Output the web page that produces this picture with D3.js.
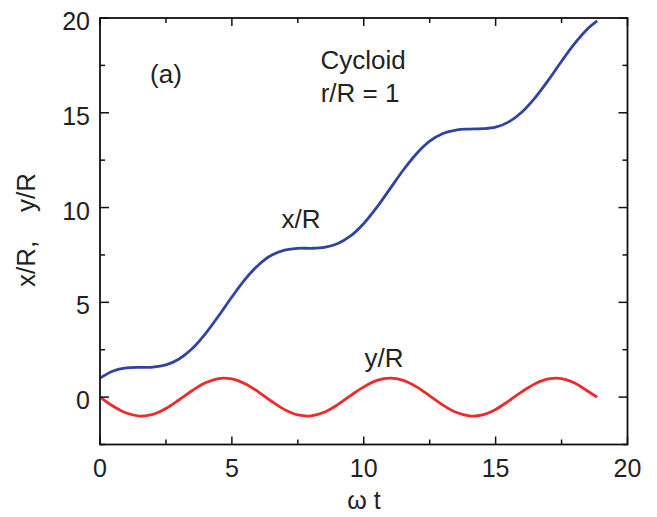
<!DOCTYPE html>
<html><head><meta charset="utf-8">
<script src="https://cdn.jsdelivr.net/npm/d3@7"></script>
<style>body{margin:0;background:#fff}svg{display:block}text{font-family:"Liberation Sans",Arial,sans-serif;fill:#222}</style>
</head><body><svg id="c" width="657" height="517"></svg>
<script>
const tValues = [0,0.5,1,1.5,2,2.5,3,3.5,4,4.5,5,5.5,6,6.5,7,7.5,8,8.5,9,9.5,10,10.5,11,11.5,12,12.5,13,13.5,14,14.5,15,15.5,16,16.5,17,17.5,18,18.5,18.85];
const xOverR = [1.00,1.38,1.54,1.57,1.58,1.70,2.01,2.56,3.35,4.29,5.28,6.21,6.96,7.48,7.75,7.85,7.85,7.90,8.09,8.50,9.16,10.02,11.00,11.98,12.84,13.50,13.91,14.09,14.14,14.16,14.24,14.52,15.04,15.80,16.72,17.72,18.66,19.45,19.85];
const yOverR = [0.00,-0.48,-0.84,-1.00,-0.91,-0.60,-0.14,0.35,0.76,0.98,0.96,0.71,0.28,-0.22,-0.66,-0.94,-0.99,-0.80,-0.41,0.08,0.54,0.88,1.00,0.88,0.54,0.07,-0.42,-0.80,-0.99,-0.94,-0.65,-0.20,0.29,0.71,0.96,0.98,0.75,0.31,0.00];
const xMajor = [0,5,10,15,20];
const xMinor = [2.5,7.5,12.5,17.5];
const yMajor = [0,5,10,15,20];
const yMinor = [-2.5,2.5,7.5,12.5,17.5];

const svg = d3.select("#c");
const L=100, R=627.5, T=18, B=444.5;
const x = d3.scaleLinear().domain([0,20]).range([L,R]);
const y = d3.scaleLinear().domain([-2.5,20]).range([B,T]);
const g = svg.append("g");

function line(data, color){
  const ln = d3.line().x((d,i)=>x(tValues[i])).y(d=>y(d)).curve(d3.curveCatmullRom.alpha(0.5));
  g.append("path").attr("d", ln(data)).attr("fill","none").attr("stroke",color).attr("stroke-width",2.8);
}
line(xOverR, "#3143a0");
line(yOverR, "#ee2a2a");

// frame
g.append("rect").attr("x",L).attr("y",T).attr("width",R-L).attr("height",B-T).attr("fill","none").attr("stroke","#111").attr("stroke-width",1.8);

// ticks (inward)
const tk = g.append("g").attr("stroke","#111").attr("stroke-width",1.5);
xMajor.forEach(v=>{tk.append("line").attr("x1",x(v)).attr("x2",x(v)).attr("y1",B).attr("y2",B-8);
  tk.append("line").attr("x1",x(v)).attr("x2",x(v)).attr("y1",T).attr("y2",T+8);});
xMinor.forEach(v=>{tk.append("line").attr("x1",x(v)).attr("x2",x(v)).attr("y1",B).attr("y2",B-5);
  tk.append("line").attr("x1",x(v)).attr("x2",x(v)).attr("y1",T).attr("y2",T+5);});
yMajor.forEach(v=>{tk.append("line").attr("y1",y(v)).attr("y2",y(v)).attr("x1",L).attr("x2",L+9);
  tk.append("line").attr("y1",y(v)).attr("y2",y(v)).attr("x1",R).attr("x2",R-9);});
yMinor.forEach(v=>{tk.append("line").attr("y1",y(v)).attr("y2",y(v)).attr("x1",L).attr("x2",L+5);
  tk.append("line").attr("y1",y(v)).attr("y2",y(v)).attr("x1",R).attr("x2",R-5);});

// tick labels
xMajor.forEach(v=>g.append("text").attr("x",x(v)).attr("y",477).attr("text-anchor","middle").attr("font-size",25).text(v));
yMajor.forEach(v=>g.append("text").attr("x",L-10).attr("y",y(v)+12).attr("text-anchor","end").attr("font-size",25).text(v));

// axis titles
g.append("text").attr("x",364).attr("y",509).attr("text-anchor","middle").attr("font-size",25).text("ω t");
g.append("text").attr("transform",`translate(35,230) rotate(-90)`).attr("text-anchor","middle").attr("font-size",26).attr("xml:space","preserve").text("x/R,    y/R");

// annotations
g.append("text").attr("x",166).attr("y",83).attr("text-anchor","middle").attr("font-size",26).text("(a)");
g.append("text").attr("x",363).attr("y",69).attr("text-anchor","middle").attr("font-size",26).text("Cycloid");
g.append("text").attr("x",360).attr("y",102).attr("text-anchor","middle").attr("font-size",26).text("r/R = 1");
g.append("text").attr("x",301).attr("y",228).attr("text-anchor","middle").attr("font-size",26).text("x/R");
g.append("text").attr("x",384).attr("y",367).attr("text-anchor","middle").attr("font-size",26).text("y/R");
</script></body></html>
